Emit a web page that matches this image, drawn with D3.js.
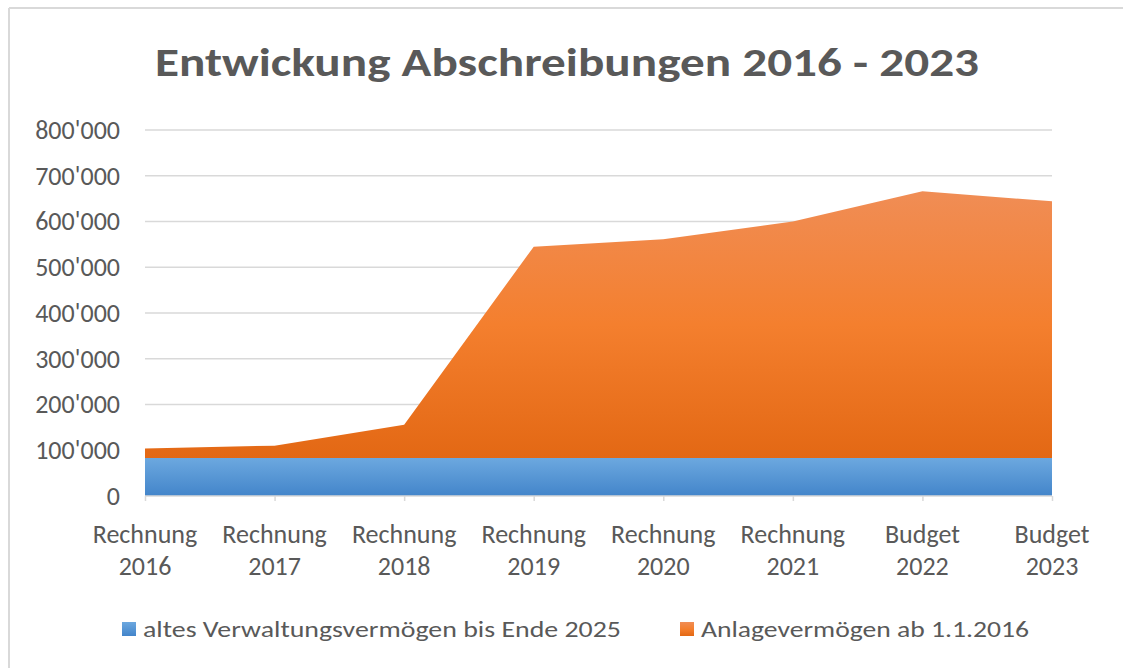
<!DOCTYPE html>
<html>
<head>
<meta charset="utf-8">
<script src="https://cdn.jsdelivr.net/npm/d3@7"></script>
<style>
  html, body { margin: 0; padding: 0; background: #fff; }
  svg { display: block; }
  text { font-family: Carlito, Calibri, Lato, sans-serif; fill: #595959; }
</style>
</head>
<body>
<script>
// data
const categories = ['Rechnung 2016', 'Rechnung 2017', 'Rechnung 2018', 'Rechnung 2019',
  'Rechnung 2020', 'Rechnung 2021', 'Budget 2022', 'Budget 2023']
const altesVV = [83000, 83000, 83000, 83000, 83000, 83000, 83000, 83000]
const anlageVV = [21000, 27000, 73000, 462000, 478000, 517000, 583000, 561000]
const seriesNames = ['altes Verwaltungsvermögen bis Ende 2025', 'Anlagevermögen ab 1.1.2016']
const yTicks = [0, 100000, 200000, 300000, 400000, 500000, 600000, 700000, 800000]

const width = 1123
const height = 668
const margin = { top: 130, bottom: 172, left: 145, right: 71 }
const innerWidth = width - margin.left - margin.right
const innerHeight = height - margin.top - margin.bottom

const dataset = categories.map((c, i) => ({ cat: c, alt: altesVV[i], anl: anlageVV[i] }))
const stack = d3.stack().keys(['alt', 'anl'])(dataset)

const locale = d3.formatLocale({ decimal: '.', thousands: "'", grouping: [3], currency: ['', ''] })
const fmt = locale.format(',d')

const svg = d3.select('body').append('svg')
  .attr('width', width)
  .attr('height', height)

// gradients
const defs = svg.append('defs')
const grads = [
  { id: 'gBlue', stops: ['#6ca8df', '#4385ca'] },
  { id: 'gOrange', stops: ['#f08d55', '#f47f2e', '#e36814'] }
]
grads.forEach(g => {
  const lg = defs.append('linearGradient').attr('id', g.id)
    .attr('x1', 0).attr('y1', 0).attr('x2', 0).attr('y2', 1)
  g.stops.forEach((s, i) => lg.append('stop')
    .attr('offset', i / (g.stops.length - 1)).attr('stop-color', s))
})

// chart border (only top and left edge are inside the picture)
svg.append('line')
  .attr('x1', 9).attr('y1', 8).attr('x2', width).attr('y2', 8)
  .attr('stroke', '#d9d9d9').attr('stroke-width', 2)
svg.append('line')
  .attr('x1', 9).attr('y1', 8).attr('x2', 9).attr('y2', height)
  .attr('stroke', '#d9d9d9').attr('stroke-width', 2)

// title
svg.append('text')
  .attr('x', 567).attr('y', 76)
  .attr('text-anchor', 'middle')
  .attr('textLength', 824).attr('lengthAdjust', 'spacingAndGlyphs')
  .style('font-size', '40px').style('font-weight', 'bold')
  .text('Entwickung Abschreibungen 2016 - 2023')

const main = svg.append('g')
  .attr('transform', `translate(${margin.left}, ${margin.top})`)

const xScale = d3.scalePoint().domain(categories).range([0, innerWidth])
const yScale = d3.scaleLinear().domain([0, 800000]).range([innerHeight, 0])

// gridlines
main.append('g').selectAll('line')
  .data(yTicks.slice(1))
  .enter().append('line')
  .attr('x1', 0).attr('x2', innerWidth)
  .attr('y1', d => yScale(d)).attr('y2', d => yScale(d))
  .attr('stroke', '#d9d9d9').attr('stroke-width', 1.5)

// areas
const area = d3.area()
  .x(d => xScale(d.data.cat))
  .y0(d => yScale(d[0]))
  .y1(d => yScale(d[1]))

main.append('g').selectAll('path')
  .data(stack)
  .enter().append('path')
  .attr('d', area)
  .attr('fill', (d, i) => i === 0 ? 'url(#gBlue)' : 'url(#gOrange)')

// y axis
const yAxis = d3.axisLeft(yScale).tickValues(yTicks).tickFormat(fmt).tickSize(0).tickPadding(25)
const yG = main.append('g').call(yAxis)
yG.select('.domain').remove()
yG.attr('font-family', null).attr('font-size', null)
yG.selectAll('text').style('font-size', '26px').attr('fill', '#595959')

// x axis (tick marks only, labels drawn below on two lines)
const xAxis = d3.axisBottom(xScale).tickSize(5)
const xG = main.append('g').attr('transform', `translate(0, ${innerHeight})`).call(xAxis)
xG.selectAll('.tick text').remove()
xG.selectAll('line, path').attr('stroke', '#d9d9d9').attr('stroke-width', 1.5)
xG.select('.domain').attr('d', `M0,0H${innerWidth}`)

const xLabels = main.append('g').selectAll('text')
  .data(categories)
  .enter().append('text')
  .attr('text-anchor', 'middle')
  .attr('transform', d => `translate(${xScale(d)}, ${innerHeight + 47})`)
  .style('font-size', '26px')
xLabels.append('tspan').attr('x', 0).attr('y', 0).text(d => d.split(' ')[0])
xLabels.append('tspan').attr('x', 0).attr('y', 32).text(d => d.split(' ')[1])

// legend
const legendX = [122, 680]
const legendLen = [478, 328]
const legend = svg.append('g').selectAll('g')
  .data(seriesNames)
  .enter().append('g')
  .attr('transform', (d, i) => `translate(${legendX[i]}, 622)`)
legend.append('rect')
  .attr('width', 14).attr('height', 14)
  .attr('fill', (d, i) => i === 0 ? 'url(#gBlue)' : 'url(#gOrange)')
legend.append('text')
  .attr('x', 21).attr('y', 15)
  .attr('textLength', (d, i) => legendLen[i]).attr('lengthAdjust', 'spacingAndGlyphs')
  .style('font-size', '22px')
  .text(d => d)
</script>
</body>
</html>
